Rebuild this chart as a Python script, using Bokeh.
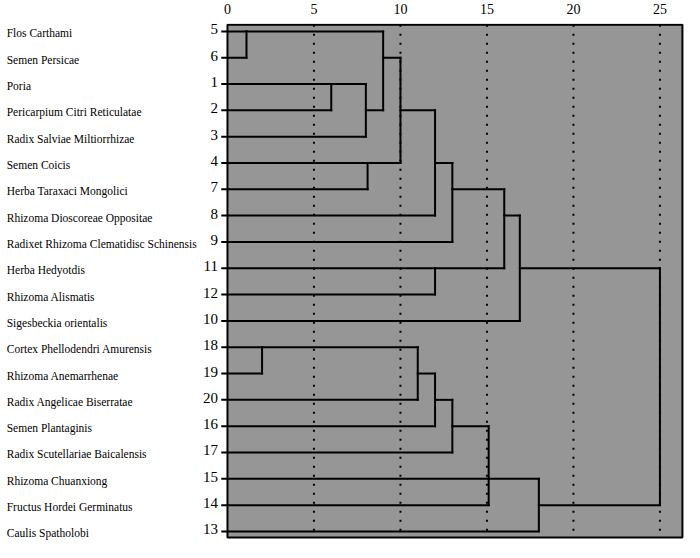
from bokeh.plotting import figure
from bokeh.models import Range1d, FixedTicker
from bokeh.core.properties import value
from bokeh.embed import file_html
from bokeh.resources import INLINE

# ---- data ----
leaf_numbers = ["5", "6", "1", "2", "3", "4", "7", "8", "9", "11",
                "12", "10", "18", "19", "20", "16", "17", "15", "14", "13"]
leaf_names = ["Flos Carthami", "Semen Persicae", "Poria",
              "Pericarpium Citri Reticulatae", "Radix Salviae Miltiorrhizae",
              "Semen Coicis", "Herba Taraxaci Mongolici",
              "Rhizoma Dioscoreae Oppositae",
              "Radixet Rhizoma Clematidisc Schinensis", "Herba Hedyotdis",
              "Rhizoma Alismatis", "Sigesbeckia orientalis",
              "Cortex Phellodendri Amurensis", "Rhizoma Anemarrhenae",
              "Radix Angelicae Biserratae", "Semen Plantaginis",
              "Radix Scutellariae Baicalensis", "Rhizoma Chuanxiong",
              "Fructus Hordei Germinatus", "Caulis Spatholobi"]
x_ticks = [0, 5, 10, 15, 20, 25]

# merges: children are leaf rows (int) or earlier merges ("m<k>")
merge_children = [
    [0, 1],            # m0
    [2, 3],            # m1
    ["m1", 4],         # m2
    ["m0", "m2"],      # m3
    [5, 6],            # m4
    ["m3", "m4"],      # m5
    ["m5", 7],         # m6
    ["m6", 8],         # m7
    [9, 10],           # m8
    ["m7", "m8"],      # m9
    ["m9", 11],        # m10
    [12, 13],          # m11
    ["m11", 14],       # m12
    ["m12", 15],       # m13
    ["m13", 16],       # m14
    ["m14", 17, 18],   # m15
    ["m15", 19],       # m16
    ["m10", "m16"],    # m17 (root)
]
merge_heights = [1.1, 6, 8, 9, 8.1, 10, 12, 13, 12, 16, 16.9,
                 2, 11, 12, 13, 15.1, 18, 25]
merge_rows = [0, 2, 3, 1, 5, 3, 5, 6, 9, 7, 9,
              12, 13, 14, 15, 17, 18, None]

# ---- styling / layout constants ----
GRAY = "#969696"
FONT = "Liberation Serif"
X0, X1 = -13.12, 26.42
BOX_RIGHT = 26.3
Y_TOP, Y_BOT = -0.30, 19.42
BOX_TOP, BOX_BOT = -0.25, 19.23
LEAF_START = -0.3
NAME_X = X0 + 0.36

p = figure(width=684, height=542, x_range=Range1d(X0, X1),
           y_range=Range1d(Y_BOT, Y_TOP), x_axis_location="above",
           y_axis_location=None, output_backend="svg",
           toolbar_location=None, min_border=0)
p.outline_line_color = None
p.grid.visible = False
p.background_fill_color = "white"
p.border_fill_color = "white"

ax = p.xaxis[0]
ax.ticker = FixedTicker(ticks=x_ticks)
ax.axis_line_color = None
ax.major_tick_line_color = None
ax.minor_tick_line_color = None
ax.major_label_text_font = FONT
ax.major_label_text_font_size = "14px"
ax.major_label_standoff = 4
ax.major_label_text_color = "black"

# gray box
p.quad(left=[0], right=[BOX_RIGHT], top=[BOX_TOP], bottom=[BOX_BOT],
       fill_color=GRAY, line_color="black", line_width=2)

# dotted guide lines
gx = [t for t in x_ticks if t > 0]
p.segment(x0=gx, x1=gx, y0=[BOX_TOP] * len(gx), y1=[BOX_BOT] * len(gx),
          line_color="black", line_width=2, line_dash="2 7")

# dendrogram segments
def pos(c):
    if isinstance(c, str):
        k = int(c[1:])
        return merge_heights[k], merge_rows[k]
    return LEAF_START, c

sx0, sx1, sy0, sy1 = [], [], [], []
for k, kids in enumerate(merge_children):
    h = merge_heights[k]
    ys = []
    for c in kids:
        cx, cy = pos(c)
        sx0.append(cx); sx1.append(h); sy0.append(cy); sy1.append(cy)
        ys.append(cy)
    sx0.append(h); sx1.append(h); sy0.append(min(ys)); sy1.append(max(ys))

p.segment(x0=sx0, x1=sx1, y0=sy0, y1=sy1, line_color="black",
          line_width=2, line_cap="square")

rows = list(range(len(leaf_numbers)))
p.text(x=[-0.55] * len(rows), y=rows, text=leaf_numbers,
       text_font=value(FONT), text_font_size="15px", text_align="right",
       text_baseline="middle", y_offset=-2, text_color="black")
p.text(x=[NAME_X] * len(rows), y=rows, text=leaf_names,
       text_font=value(FONT), text_font_size="11.5px", text_align="left",
       text_baseline="middle", y_offset=2, text_color="black")

open("out.html", "w").write(file_html(p, INLINE))
